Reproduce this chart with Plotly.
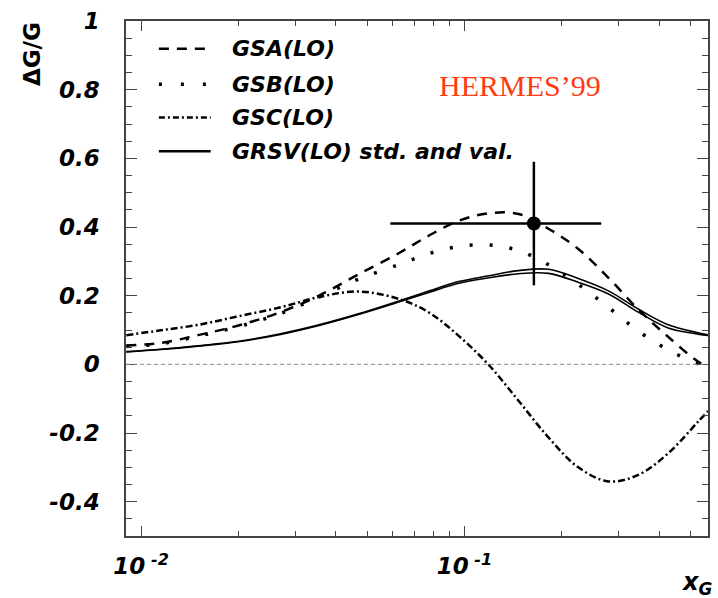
import plotly.graph_objects as go
import math

# ---------------- data ----------------
x_grid = [0.009, 0.0115, 0.015, 0.02, 0.027, 0.0355, 0.047, 0.063, 0.078, 0.096,
          0.119, 0.147, 0.182, 0.225, 0.279, 0.345, 0.427, 0.528, 0.567]
gsa = [0.055, 0.062, 0.085, 0.113, 0.152, 0.200, 0.262, 0.325, 0.376, 0.418,
       0.440, 0.438, 0.395, 0.336, 0.252, 0.160, 0.080, 0.008, -0.007]
gsb = [0.052, 0.060, 0.082, 0.110, 0.148, 0.196, 0.248, 0.291, 0.323, 0.343,
       0.348, 0.331, 0.290, 0.233, 0.166, 0.097, 0.042, 0.002, -0.005]
gsc = [0.085, 0.099, 0.115, 0.140, 0.166, 0.196, 0.212, 0.190, 0.150, 0.083,
       -0.002, -0.106, -0.213, -0.300, -0.341, -0.322, -0.259, -0.167, -0.136]
grsv_std = [0.037, 0.044, 0.054, 0.067, 0.089, 0.115, 0.147, 0.185, 0.214, 0.241,
            0.258, 0.273, 0.277, 0.250, 0.214, 0.161, 0.115, 0.092, 0.086]
grsv_val = [0.036, 0.043, 0.053, 0.066, 0.087, 0.113, 0.145, 0.182, 0.210, 0.236,
            0.252, 0.264, 0.265, 0.239, 0.205, 0.152, 0.106, 0.088, 0.084]

hermes_x = [0.164]
hermes_y = [0.41]
hermes_xerr_minus = [0.105]
hermes_xerr_plus = [0.101]
hermes_yerr = [0.18]

legend_labels = ["GSA(LO)", "GSB(LO)", "GSC(LO)", "GRSV(LO) std. and val."]
y_ticks = [-0.4, -0.2, 0, 0.2, 0.4, 0.6, 0.8, 1]
y_ticktext = ["-0.4", "-0.2", "0", "0.2", "0.4", "0.6", "0.8", "1"]
x_ticks = [0.01, 0.1]
x_ticktext = ["10<sup> -2</sup>", "10<sup> -1</sup>"]
x_minor = [0.02, 0.03, 0.04, 0.05, 0.06, 0.07, 0.08, 0.09, 0.2, 0.3, 0.4, 0.5]
y_minor = [round(-0.5 + 0.05 * i, 2) for i in range(31)]

# ---------------- styles ----------------
FONT = "DejaVu Sans"
DASH_A = "10px,8px"
DASH_B = "3px,17px"
DASH_C = "7px,3px,2px,3px"

fig = go.Figure()

fig.add_trace(go.Scatter(x=x_grid, y=gsc, mode="lines", line_shape="spline",
                         line=dict(color="black", width=2.5, dash=DASH_C), showlegend=False))
fig.add_trace(go.Scatter(x=x_grid, y=gsa, mode="lines", line_shape="spline",
                         line=dict(color="black", width=2.5, dash=DASH_A), showlegend=False))
fig.add_trace(go.Scatter(x=x_grid, y=gsb, mode="lines", line_shape="spline",
                         line=dict(color="black", width=3.5, dash=DASH_B), showlegend=False))
fig.add_trace(go.Scatter(x=x_grid, y=grsv_std, mode="lines", line_shape="spline",
                         line=dict(color="black", width=1.6), showlegend=False))
fig.add_trace(go.Scatter(x=x_grid, y=grsv_val, mode="lines", line_shape="spline",
                         line=dict(color="black", width=1.6), showlegend=False))

fig.add_trace(go.Scatter(
    x=hermes_x, y=hermes_y, mode="markers",
    marker=dict(color="black", size=14),
    error_x=dict(type="data", array=hermes_xerr_plus, arrayminus=hermes_xerr_minus,
                 width=0, thickness=2.5, color="black"),
    error_y=dict(type="data", array=hermes_yerr, width=0, thickness=2.5, color="black"),
    showlegend=False))

# zero reference line
fig.add_shape(type="line", xref="x domain", yref="y", x0=0, x1=1, y0=0, y1=0,
              line=dict(color="#888888", width=1, dash="4px,3px"))

# ---------------- custom legend ----------------
W, H = 718, 598
L, R, T, B = 126, 8, 17, 62
pw, ph = W - L - R, H - T - B


def px(xp):
    return (xp - L) / pw


def py(yp):
    return (H - B - yp) / ph


rows_y = [45, 80.7, 114.3, 148.3]
styles = [dict(dash=DASH_A, width=2.5), dict(dash="3px,19px", width=3.5),
          dict(dash="6px,3px,2px,3px", width=2.5), dict(dash="solid", width=2.5)]
for lab, yy, st in zip(legend_labels, rows_y, styles):
    fig.add_shape(type="line", xref="paper", yref="paper",
                  x0=px(159), x1=px(211), y0=py(yy), y1=py(yy),
                  line=dict(color="black", width=st["width"], dash=st["dash"]))
    fig.add_annotation(xref="paper", yref="paper", x=px(230), y=py(yy),
                       xanchor="left", yanchor="middle", showarrow=False, text=lab,
                       font=dict(family=FONT, size=22, color="black",
                                 weight="bold", style="italic"))

fig.add_annotation(xref="paper", yref="paper", x=px(521), y=py(82),
                   xanchor="center", yanchor="middle", showarrow=False,
                   text="HERMES\u201999",
                   font=dict(family="Liberation Serif", size=30, color="#ff3a10"))

fig.add_annotation(xref="paper", yref="paper", x=px(31), y=py(50),
                   xanchor="center", yanchor="middle", showarrow=False, textangle=-90,
                   text="\u0394G/G",
                   font=dict(family=FONT, size=23, color="black", weight="bold"))

fig.add_annotation(xref="paper", yref="paper", x=px(716), y=py(584),
                   xanchor="right", yanchor="middle", showarrow=False,
                   text="x<sub>G</sub>",
                   font=dict(family=FONT, size=24, color="black",
                             weight="bold", style="italic"))

tickfont = dict(family=FONT, size=23, color="black", weight="bold", style="italic")
axcol = "#444444"

fig.update_xaxes(type="log", range=[math.log10(0.00898), math.log10(0.5668)],
                 tickmode="array", tickvals=x_ticks, ticktext=x_ticktext,
                 ticks="inside", ticklen=10, tickwidth=1.2, tickcolor=axcol,
                 showline=True, linecolor=axcol, linewidth=1.5, mirror="allticks",
                 showgrid=False, zeroline=False, tickfont=tickfont, ticklabelstandoff=9,
                 minor=dict(tickmode="array", tickvals=x_minor, ticks="inside",
                            ticklen=5, tickwidth=1.2, tickcolor=axcol, showgrid=False))
fig.update_yaxes(range=[-0.5, 1.0], tickmode="array", tickvals=y_ticks, ticktext=y_ticktext,
                 ticks="inside", ticklen=11, tickwidth=1.2, tickcolor=axcol,
                 showline=True, linecolor=axcol, linewidth=1.5, mirror="allticks",
                 showgrid=False, zeroline=False, tickfont=tickfont, ticklabelstandoff=20,
                 minor=dict(tickmode="array", tickvals=y_minor, ticks="inside",
                            ticklen=6, tickwidth=1.2, tickcolor=axcol, showgrid=False))

fig.update_layout(width=W, height=H, margin=dict(l=L, r=R, t=T, b=B),
                  plot_bgcolor="white", paper_bgcolor="white")

fig.write_html("out.html")
